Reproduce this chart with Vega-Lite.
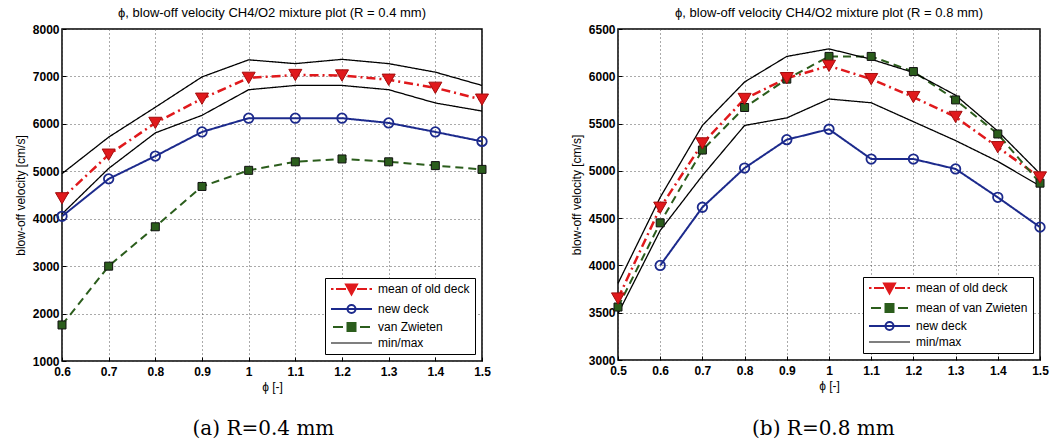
{
  "$schema": "https://vega.github.io/schema/vega-lite/v6.json",
  "background": "white",
  "padding": {"left": 13, "top": 6, "right": 2, "bottom": 2},
  "config": {
    "font": "Liberation Sans",
    "view": {"stroke": "black", "strokeWidth": 1.5},
    "axis": {
      "domain": false,
      "grid": true,
      "gridDash": [1, 3],
      "gridColor": "#555555",
      "gridWidth": 1,
      "ticks": true,
      "tickColor": "black",
      "tickSize": -4,
      "tickWidth": 1,
      "labelFlush": false,
      "labelFont": "Liberation Sans",
      "labelFontSize": 12,
      "labelFontWeight": "bold",
      "labelColor": "black",
      "titleFont": "Liberation Sans",
      "titleFontSize": 12,
      "titleFontWeight": "normal",
      "titleColor": "black"
    },
    "axisY": {"titlePadding": 5, "labelPadding": 7},
    "axisX": {"titlePadding": 4, "labelPadding": 9},
    "title": {"font": "Liberation Sans", "fontSize": 13, "fontWeight": "normal", "color": "black", "offset": 3},
    "legend": {
      "orient": "bottom-right",
      "offset": 7,
      "title": null,
      "fillColor": "white",
      "strokeColor": "black",
      "padding": 5,
      "symbolSize": 100,
      "labelFont": "Liberation Sans",
      "labelFontSize": 12,
      "labelColor": "black",
      "labelOffset": 36,
      "rowPadding": 2
    }
  },
  "datasets": {
    "r04": [
      {"phi": 0.6, "v": 4430, "series": "mean of old deck", "line": "old"},
      {"phi": 0.7, "v": 5350, "series": "mean of old deck", "line": "old"},
      {"phi": 0.8, "v": 6020, "series": "mean of old deck", "line": "old"},
      {"phi": 0.9, "v": 6530, "series": "mean of old deck", "line": "old"},
      {"phi": 1.0, "v": 6970, "series": "mean of old deck", "line": "old"},
      {"phi": 1.1, "v": 7030, "series": "mean of old deck", "line": "old"},
      {"phi": 1.2, "v": 7020, "series": "mean of old deck", "line": "old"},
      {"phi": 1.3, "v": 6930, "series": "mean of old deck", "line": "old"},
      {"phi": 1.4, "v": 6760, "series": "mean of old deck", "line": "old"},
      {"phi": 1.5, "v": 6510, "series": "mean of old deck", "line": "old"},
      {"phi": 0.6, "v": 4050, "series": "new deck", "line": "new"},
      {"phi": 0.7, "v": 4840, "series": "new deck", "line": "new"},
      {"phi": 0.8, "v": 5320, "series": "new deck", "line": "new"},
      {"phi": 0.9, "v": 5830, "series": "new deck", "line": "new"},
      {"phi": 1.0, "v": 6120, "series": "new deck", "line": "new"},
      {"phi": 1.1, "v": 6120, "series": "new deck", "line": "new"},
      {"phi": 1.2, "v": 6120, "series": "new deck", "line": "new"},
      {"phi": 1.3, "v": 6020, "series": "new deck", "line": "new"},
      {"phi": 1.4, "v": 5830, "series": "new deck", "line": "new"},
      {"phi": 1.5, "v": 5630, "series": "new deck", "line": "new"},
      {"phi": 0.6, "v": 1760, "series": "van Zwieten", "line": "vz"},
      {"phi": 0.7, "v": 3000, "series": "van Zwieten", "line": "vz"},
      {"phi": 0.8, "v": 3830, "series": "van Zwieten", "line": "vz"},
      {"phi": 0.9, "v": 4680, "series": "van Zwieten", "line": "vz"},
      {"phi": 1.0, "v": 5020, "series": "van Zwieten", "line": "vz"},
      {"phi": 1.1, "v": 5200, "series": "van Zwieten", "line": "vz"},
      {"phi": 1.2, "v": 5260, "series": "van Zwieten", "line": "vz"},
      {"phi": 1.3, "v": 5200, "series": "van Zwieten", "line": "vz"},
      {"phi": 1.4, "v": 5120, "series": "van Zwieten", "line": "vz"},
      {"phi": 1.5, "v": 5040, "series": "van Zwieten", "line": "vz"},
      {"phi": 0.6, "v": 4950, "series": "min/max", "line": "max"},
      {"phi": 0.7, "v": 5720, "series": "min/max", "line": "max"},
      {"phi": 0.8, "v": 6350, "series": "min/max", "line": "max"},
      {"phi": 0.9, "v": 6990, "series": "min/max", "line": "max"},
      {"phi": 1.0, "v": 7350, "series": "min/max", "line": "max"},
      {"phi": 1.1, "v": 7270, "series": "min/max", "line": "max"},
      {"phi": 1.2, "v": 7360, "series": "min/max", "line": "max"},
      {"phi": 1.3, "v": 7270, "series": "min/max", "line": "max"},
      {"phi": 1.4, "v": 7090, "series": "min/max", "line": "max"},
      {"phi": 1.5, "v": 6810, "series": "min/max", "line": "max"},
      {"phi": 0.6, "v": 4100, "series": "min/max", "line": "min"},
      {"phi": 0.7, "v": 5060, "series": "min/max", "line": "min"},
      {"phi": 0.8, "v": 5810, "series": "min/max", "line": "min"},
      {"phi": 0.9, "v": 6180, "series": "min/max", "line": "min"},
      {"phi": 1.0, "v": 6720, "series": "min/max", "line": "min"},
      {"phi": 1.1, "v": 6810, "series": "min/max", "line": "min"},
      {"phi": 1.2, "v": 6810, "series": "min/max", "line": "min"},
      {"phi": 1.3, "v": 6720, "series": "min/max", "line": "min"},
      {"phi": 1.4, "v": 6440, "series": "min/max", "line": "min"},
      {"phi": 1.5, "v": 6270, "series": "min/max", "line": "min"}
    ],
    "r08": [
      {"phi": 0.5, "v": 3650, "series": "mean of old deck", "line": "old"},
      {"phi": 0.6, "v": 4610, "series": "mean of old deck", "line": "old"},
      {"phi": 0.7, "v": 5290, "series": "mean of old deck", "line": "old"},
      {"phi": 0.8, "v": 5760, "series": "mean of old deck", "line": "old"},
      {"phi": 0.9, "v": 5980, "series": "mean of old deck", "line": "old"},
      {"phi": 1.0, "v": 6110, "series": "mean of old deck", "line": "old"},
      {"phi": 1.1, "v": 5970, "series": "mean of old deck", "line": "old"},
      {"phi": 1.2, "v": 5780, "series": "mean of old deck", "line": "old"},
      {"phi": 1.3, "v": 5570, "series": "mean of old deck", "line": "old"},
      {"phi": 1.4, "v": 5250, "series": "mean of old deck", "line": "old"},
      {"phi": 1.5, "v": 4930, "series": "mean of old deck", "line": "old"},
      {"phi": 0.5, "v": 3560, "series": "mean of van Zwieten", "line": "vz"},
      {"phi": 0.6, "v": 4450, "series": "mean of van Zwieten", "line": "vz"},
      {"phi": 0.7, "v": 5220, "series": "mean of van Zwieten", "line": "vz"},
      {"phi": 0.8, "v": 5670, "series": "mean of van Zwieten", "line": "vz"},
      {"phi": 0.9, "v": 5970, "series": "mean of van Zwieten", "line": "vz"},
      {"phi": 1.0, "v": 6210, "series": "mean of van Zwieten", "line": "vz"},
      {"phi": 1.1, "v": 6210, "series": "mean of van Zwieten", "line": "vz"},
      {"phi": 1.2, "v": 6050, "series": "mean of van Zwieten", "line": "vz"},
      {"phi": 1.3, "v": 5750, "series": "mean of van Zwieten", "line": "vz"},
      {"phi": 1.4, "v": 5390, "series": "mean of van Zwieten", "line": "vz"},
      {"phi": 1.5, "v": 4870, "series": "mean of van Zwieten", "line": "vz"},
      {"phi": 0.6, "v": 4000, "series": "new deck", "line": "new"},
      {"phi": 0.7, "v": 4615, "series": "new deck", "line": "new"},
      {"phi": 0.8, "v": 5030, "series": "new deck", "line": "new"},
      {"phi": 0.9, "v": 5330, "series": "new deck", "line": "new"},
      {"phi": 1.0, "v": 5440, "series": "new deck", "line": "new"},
      {"phi": 1.1, "v": 5125, "series": "new deck", "line": "new"},
      {"phi": 1.2, "v": 5125, "series": "new deck", "line": "new"},
      {"phi": 1.3, "v": 5020, "series": "new deck", "line": "new"},
      {"phi": 1.4, "v": 4720, "series": "new deck", "line": "new"},
      {"phi": 1.5, "v": 4405, "series": "new deck", "line": "new"},
      {"phi": 0.5, "v": 3810, "series": "min/max", "line": "max"},
      {"phi": 0.6, "v": 4720, "series": "min/max", "line": "max"},
      {"phi": 0.7, "v": 5480, "series": "min/max", "line": "max"},
      {"phi": 0.8, "v": 5940, "series": "min/max", "line": "max"},
      {"phi": 0.9, "v": 6210, "series": "min/max", "line": "max"},
      {"phi": 1.0, "v": 6290, "series": "min/max", "line": "max"},
      {"phi": 1.1, "v": 6180, "series": "min/max", "line": "max"},
      {"phi": 1.2, "v": 6040, "series": "min/max", "line": "max"},
      {"phi": 1.3, "v": 5800, "series": "min/max", "line": "max"},
      {"phi": 1.4, "v": 5420, "series": "min/max", "line": "max"},
      {"phi": 1.5, "v": 4970, "series": "min/max", "line": "max"},
      {"phi": 0.5, "v": 3490, "series": "min/max", "line": "min"},
      {"phi": 0.6, "v": 4370, "series": "min/max", "line": "min"},
      {"phi": 0.7, "v": 4950, "series": "min/max", "line": "min"},
      {"phi": 0.8, "v": 5480, "series": "min/max", "line": "min"},
      {"phi": 0.9, "v": 5560, "series": "min/max", "line": "min"},
      {"phi": 1.0, "v": 5760, "series": "min/max", "line": "min"},
      {"phi": 1.1, "v": 5720, "series": "min/max", "line": "min"},
      {"phi": 1.2, "v": 5520, "series": "min/max", "line": "min"},
      {"phi": 1.3, "v": 5320, "series": "min/max", "line": "min"},
      {"phi": 1.4, "v": 5100, "series": "min/max", "line": "min"},
      {"phi": 1.5, "v": 4840, "series": "min/max", "line": "min"}
    ]
  },
  "spacing": 77,
  "resolve": {
    "scale": {"x": "independent", "y": "independent", "color": "independent", "strokeDash": "independent"},
    "legend": {"color": "independent"}
  },
  "hconcat": [
    {
      "title": {"text": "(a) R=0.4 mm", "orient": "bottom", "anchor": "middle", "font": "DejaVu Serif", "fontSize": 20, "offset": 26, "dx": 11},
      "resolve": {"scale": {"x": "independent", "y": "independent", "color": "independent"}},
      "vconcat": [
        {
          "title": "ϕ, blow-off velocity CH4/O2 mixture plot (R = 0.4 mm)",
          "width": 420,
          "height": 332,
          "data": {"name": "r04"},
          "encoding": {
            "x": {"field": "phi", "type": "quantitative", "scale": {"domain": [0.6, 1.5], "nice": false, "zero": false},
                  "axis": {"title": "ϕ [-]", "values": [0.6, 0.7, 0.8, 0.9, 1.0, 1.1, 1.2, 1.3, 1.4, 1.5], "format": ".1~f"}},
            "y": {"field": "v", "type": "quantitative", "scale": {"domain": [1000, 8000], "nice": false, "zero": false},
                  "axis": {"title": "blow-off velocity [cm/s]", "values": [1000, 2000, 3000, 4000, 5000, 6000, 7000, 8000], "format": "d"}}
          },
          "layer": [
            {
              "mark": {"type": "line", "strokeCap": "butt"},
              "encoding": {
                "detail": {"field": "line"},
                "color": {"field": "series", "type": "nominal",
                  "scale": {"domain": ["mean of old deck", "new deck", "van Zwieten", "min/max"], "range": ["#e0191c", "#1c2a8c", "#2b5d1c", "#000000"]},
                  "legend": {
                    "encode": {"symbols": {"update": {
                      "shape": {"signal": "datum.value === 'mean of old deck' ? 'M-1,0H-0.5M0,0H2M4.2,0H6.2M6.7,0H7.2M2,-0.9L4.2,-0.9L3.1,1.1Z' : datum.value === 'new deck' ? 'M-1,0H7.2M3.9,0A0.8,0.8 0 1,1 2.3,0A0.8,0.8 0 1,1 3.9,0' : datum.value === 'min/max' ? 'M-1,0H7.2' : 'M-0.6,0H1.4M4.8,0H6.8M2.3,-0.8H3.9V0.8H2.3Z'"},
                      "fill": {"signal": "datum.value === 'mean of old deck' ? '#e0191c' : test(/Zwieten/, datum.value) ? '#2b5d1c' : 'transparent'"},
                      "strokeWidth": {"signal": "datum.value === 'min/max' ? 1.2 : 2"},
                      "strokeDash": {"value": []},
                      "opacity": {"value": 1}
                    }}}
                  }},
                "strokeDash": {"field": "series", "type": "nominal",
                  "scale": {"domain": ["mean of old deck", "new deck", "van Zwieten", "min/max"], "range": [[9, 4, 2, 4], [1, 0], [8, 5], [1, 0]]},
                  "legend": null},
                "strokeWidth": {"condition": [
                  {"test": "datum.series === 'min/max'", "value": 1.3},
                  {"test": "datum.series === 'mean of old deck'", "value": 2.5}
                ], "value": 2}
              }
            },
            {
              "transform": [{"filter": "datum.series === 'van Zwieten'"}],
              "mark": {"type": "point", "shape": "square", "filled": true, "size": 64, "fill": "#2b5d1c", "stroke": "#111111", "strokeWidth": 1, "opacity": 1}
            },
            {
              "transform": [{"filter": "datum.series === 'new deck'"}],
              "mark": {"type": "point", "shape": "circle", "filled": false, "size": 90, "color": "#1c2a8c", "strokeWidth": 1.8, "opacity": 1}
            },
            {
              "transform": [{"filter": "datum.series === 'mean of old deck'"}],
              "mark": {"type": "point", "shape": "triangle-down", "filled": true, "size": 170, "fill": "#e0191c", "stroke": "#a30d0d", "strokeWidth": 1, "opacity": 1}
            }
          ]
        }
      ]
    },
    {
      "title": {"text": "(b) R=0.8 mm", "orient": "bottom", "anchor": "middle", "font": "DejaVu Serif", "fontSize": 20, "offset": 27, "dx": 14},
      "resolve": {"scale": {"x": "independent", "y": "independent", "color": "independent"}},
      "vconcat": [
        {
          "title": "ϕ, blow-off velocity CH4/O2 mixture plot (R = 0.8 mm)",
          "width": 422,
          "height": 331,
          "data": {"name": "r08"},
          "encoding": {
            "x": {"field": "phi", "type": "quantitative", "scale": {"domain": [0.5, 1.5], "nice": false, "zero": false},
                  "axis": {"title": "ϕ [-]", "values": [0.5, 0.6, 0.7, 0.8, 0.9, 1.0, 1.1, 1.2, 1.3, 1.4, 1.5], "format": ".1~f"}},
            "y": {"field": "v", "type": "quantitative", "scale": {"domain": [3000, 6500], "nice": false, "zero": false},
                  "axis": {"title": "blow-off velocity [cm/s]", "values": [3000, 3500, 4000, 4500, 5000, 5500, 6000, 6500], "format": "d"}}
          },
          "layer": [
            {
              "mark": {"type": "line", "strokeCap": "butt"},
              "encoding": {
                "detail": {"field": "line"},
                "color": {"field": "series", "type": "nominal",
                  "scale": {"domain": ["mean of old deck", "mean of van Zwieten", "new deck", "min/max"], "range": ["#e0191c", "#2b5d1c", "#1c2a8c", "#000000"]},
                  "legend": {
                    "encode": {"symbols": {"update": {
                      "shape": {"signal": "datum.value === 'mean of old deck' ? 'M-1,0H-0.5M0,0H2M4.2,0H6.2M6.7,0H7.2M2,-0.9L4.2,-0.9L3.1,1.1Z' : datum.value === 'new deck' ? 'M-1,0H7.2M3.9,0A0.8,0.8 0 1,1 2.3,0A0.8,0.8 0 1,1 3.9,0' : datum.value === 'min/max' ? 'M-1,0H7.2' : 'M-0.6,0H1.4M4.8,0H6.8M2.3,-0.8H3.9V0.8H2.3Z'"},
                      "fill": {"signal": "datum.value === 'mean of old deck' ? '#e0191c' : test(/Zwieten/, datum.value) ? '#2b5d1c' : 'transparent'"},
                      "strokeWidth": {"signal": "datum.value === 'min/max' ? 1.2 : 2"},
                      "strokeDash": {"value": []},
                      "opacity": {"value": 1}
                    }}}
                  }},
                "strokeDash": {"field": "series", "type": "nominal",
                  "scale": {"domain": ["mean of old deck", "mean of van Zwieten", "new deck", "min/max"], "range": [[9, 4, 2, 4], [8, 5], [1, 0], [1, 0]]},
                  "legend": null},
                "strokeWidth": {"condition": [
                  {"test": "datum.series === 'min/max'", "value": 1.3},
                  {"test": "datum.series === 'mean of old deck'", "value": 2.5}
                ], "value": 2}
              }
            },
            {
              "transform": [{"filter": "datum.series === 'mean of van Zwieten'"}],
              "mark": {"type": "point", "shape": "square", "filled": true, "size": 64, "fill": "#2b5d1c", "stroke": "#111111", "strokeWidth": 1, "opacity": 1}
            },
            {
              "transform": [{"filter": "datum.series === 'new deck'"}],
              "mark": {"type": "point", "shape": "circle", "filled": false, "size": 90, "color": "#1c2a8c", "strokeWidth": 1.8, "opacity": 1}
            },
            {
              "transform": [{"filter": "datum.series === 'mean of old deck'"}],
              "mark": {"type": "point", "shape": "triangle-down", "filled": true, "size": 170, "fill": "#e0191c", "stroke": "#a30d0d", "strokeWidth": 1, "opacity": 1}
            }
          ]
        }
      ]
    }
  ]
}
